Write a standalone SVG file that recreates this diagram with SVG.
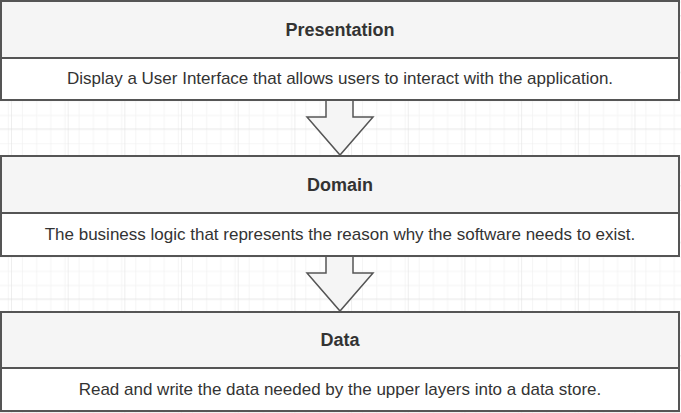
<svg xmlns="http://www.w3.org/2000/svg" width="681" height="413" viewBox="0 0 681 413">
<defs>
<pattern id="minor" x="11" y="15" width="14.17" height="14.17" patternUnits="userSpaceOnUse">
<path d="M0 0 V14.17 M0 0 H14.17" fill="none" stroke="#ececec" stroke-width="1"/>
</pattern>
<pattern id="major" x="11" y="15" width="56.68" height="56.68" patternUnits="userSpaceOnUse">
<rect width="56.68" height="56.68" fill="url(#minor)"/>
<path d="M0 0 V56.68 M0 0 H56.68" fill="none" stroke="#dedede" stroke-width="1"/>
</pattern>
</defs>
<style>
.hdr{fill:#f5f5f5;stroke:#555;stroke-width:2}
.body{fill:#ffffff;stroke:#555;stroke-width:2}
.title{font-family:"Liberation Sans",Arial,sans-serif;font-size:18px;font-weight:bold;fill:#333;text-anchor:middle}
.desc{font-family:"Liberation Sans",Arial,sans-serif;font-size:17px;fill:#333;text-anchor:middle}
.arrow{fill:#f5f5f5;stroke:#555;stroke-width:1.5;stroke-linejoin:miter}
</style>
<rect width="681" height="413" fill="#ffffff"/>
<rect width="681" height="413" fill="url(#major)"/>
<g id="connectors">
<path class="arrow" d="M326 100 H353 V117 H373 L340 155 L307 117 H326 Z"/>
<path class="arrow" d="M326 256 H353 V273 H373 L340 311 L307 273 H326 Z"/>
</g>
<g id="presentation">
<rect class="body" x="1" y="58" width="678" height="42"/>
<rect class="hdr" x="1" y="1" width="678" height="57"/>
<text class="title" x="340" y="36">Presentation</text>
<text class="desc" x="340" y="84">Display a User Interface that allows users to interact with the application.</text>
</g>
<g id="domain">
<rect class="body" x="1" y="213" width="678" height="43"/>
<rect class="hdr" x="1" y="156" width="678" height="57"/>
<text class="title" x="340" y="191">Domain</text>
<text class="desc" x="340" y="240">The business logic that represents the reason why the software needs to exist.</text>
</g>
<g id="data">
<rect class="body" x="1" y="368" width="678" height="43"/>
<rect class="hdr" x="1" y="312" width="678" height="56"/>
<text class="title" x="340" y="346">Data</text>
<text class="desc" x="340" y="395">Read and write the data needed by the upper layers into a data store.</text>
</g>
</svg>
